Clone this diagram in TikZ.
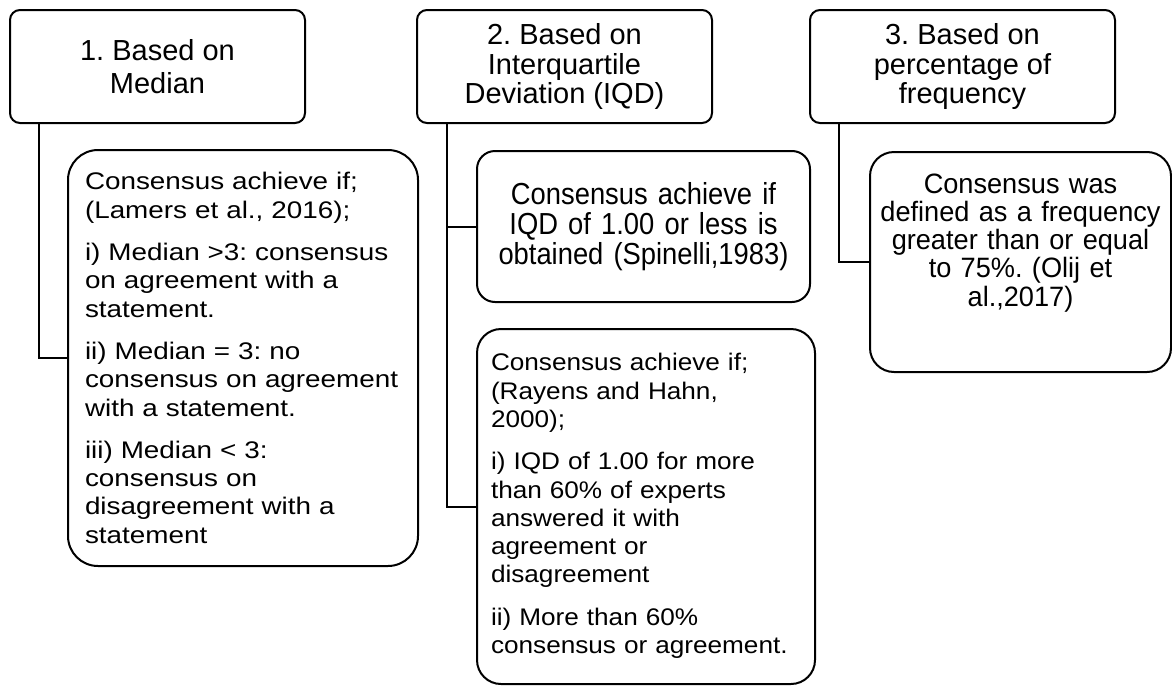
\documentclass[tikz,border=0pt]{standalone}
\usepackage{fontspec}
\setmainfont{Liberation Sans}
\newfontfamily\medianfont{Liberation Sans}[FakeStretch=1.16]
\newfontfamily\iqdfont{Liberation Sans}[FakeStretch=0.9]
\newfontfamily\rangefont{Liberation Sans}[FakeStretch=1.09]
\newfontfamily\freqfont{Liberation Sans}[FakeStretch=0.97]
\usepackage{tikz}
\frenchspacing

\begin{document}
\begin{tikzpicture}[x=0.5pt, y=-0.5pt, line width=1pt,
        head/.style={draw, rounded corners=5pt, align=center, inner sep=0pt,
            minimum height=56.5pt, font=\fontsize{14.5}{14.8}\selectfont},
        body/.style={draw, rounded corners=12pt, inner xsep=0pt, inner ysep=0pt}]
        \useasboundingbox (0,0) rectangle (1172,686);
        \node (Median) [head, minimum width=147.5pt] at (157.5,66.5) {1. Based on\\[2pt] Median};
        \node (IQD) [head, minimum width=147.5pt] at (564.5,66.5) {2. Based on\\ Interquartile\\ Deviation (IQD)};
        \node (Freq) [head, minimum width=152.5pt] at (962.5,66.5) {3. Based on\\ percentage of\\ frequency};
        \node (MedianRule) [body, rounded corners=15pt, align=left, inner xsep=8.5pt, text width=158pt, minimum height=208pt,
            font=\medianfont\fontsize{12}{14.15}\selectfont] at (243,358)
            {Consensus achieve if;\\ (Lamers et al., 2016);\\[7pt]
             i) Median >3: consensus\\ on agreement with a\\ statement.\\[7pt]
             ii) Median = 3: no\\ consensus on agreement\\ with a statement.\\[7pt]
             iii) Median < 3:\\ consensus on\\ disagreement with a\\ statement};
        \node (IQDRule) [body, rounded corners=9pt, align=center, text width=166.5pt, minimum height=75.5pt,
            font=\iqdfont\fontsize{15.2}{15}\selectfont] at (643.5,226.5)
            {Consensus achieve if\\ IQD of 1.00 or less is\\ obtained (Spinelli,1983)};
        \node (IQDRange) [body, align=left, inner xsep=7pt, text width=155pt, minimum height=177.5pt,
            font=\rangefont\fontsize{12}{14.15}\selectfont] at (646,506.5)
            {\mbox{}\\[-6pt] Consensus achieve if;\\ (Rayens and Hahn,\\ 2000);\\[7pt]
             i) IQD of 1.00 for more\\ than 60\% of experts\\ answered it with\\ agreement or\\ disagreement\\[7pt]
             ii) More than 60\%\\ consensus or agreement.};
        \node (FreqRule) [body, align=center, text width=150.5pt, minimum height=110pt,
            font=\freqfont\fontsize{14}{14.15}\selectfont] at (1020.5,262)
            {Consensus was\\ defined as a frequency\\ greater than or equal\\ to 75\%. (Olij et\\ al.,2017)\\[8pt]\mbox{}};
        \draw (Median.south west) ++(30,0) |- (MedianRule.west);
        \draw (IQD.south west) ++(31,0) |- (IQDRule.west);
        \draw (IQD.south west) ++(31,0) |- (IQDRange.west);
        \draw (Freq.south west) ++(30,0) |- (FreqRule.west);
    \end{tikzpicture}
\end{document}
